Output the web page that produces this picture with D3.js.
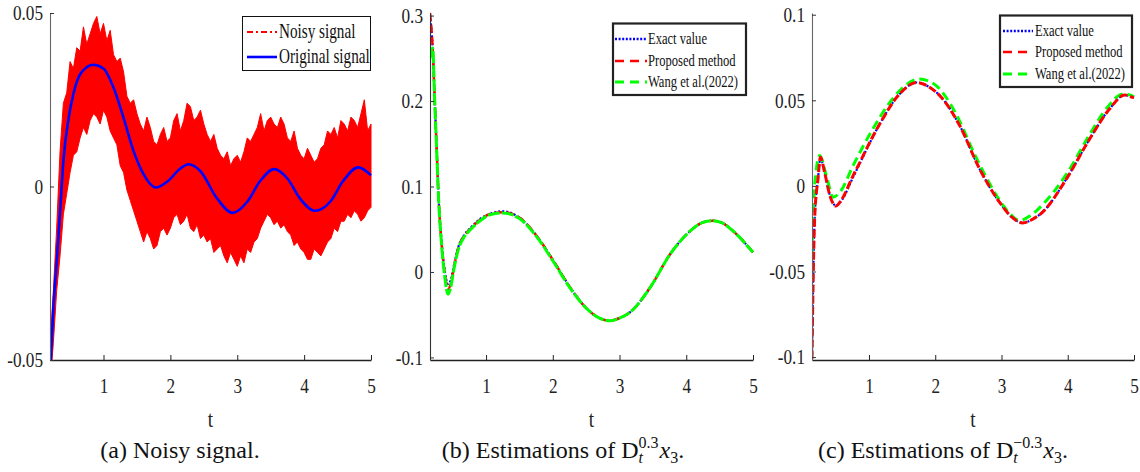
<!DOCTYPE html>
<html><head><meta charset="utf-8">
<script src="https://cdn.jsdelivr.net/npm/d3@7"></script>
<style>
@font-face{font-family:"ChartSerif";src:local("Liberation Serif"),local("LiberationSerif"),local("Liberation Serif Regular"),local("LiberationSerif-Regular"),local("Times New Roman");font-style:normal;font-weight:400;}
@font-face{font-family:"ChartSerif";src:local("Liberation Serif Italic"),local("LiberationSerif-Italic"),local("Times New Roman Italic");font-style:italic;font-weight:400;}
body{margin:0;background:#fff;}
svg{display:block;}
</style></head><body>
<svg id="chart" width="1140" height="472"></svg>
<script>
// ---------- DATA ----------
const tNoise = [0.2,0.25,0.3,0.35,0.4,0.45,0.5,0.55,0.6,0.65,0.7,0.75,0.8,0.85,0.9,0.95,1.0,1.05,1.1,1.15,1.2,1.25,1.3,1.35,1.4,1.45,1.5,1.55,1.6,1.65,1.7,1.75,1.8,1.85,1.9,1.95,2.0,2.05,2.1,2.15,2.2,2.25,2.3,2.35,2.4,2.45,2.5,2.55,2.6,2.65,2.7,2.75,2.8,2.85,2.9,2.95,3.0,3.05,3.1,3.15,3.2,3.25,3.3,3.35,3.4,3.45,3.5,3.55,3.6,3.65,3.7,3.75,3.8,3.85,3.9,3.95,4.0,4.05,4.1,4.15,4.2,4.25,4.3,4.35,4.4,4.45,4.5,4.55,4.6,4.65,4.7,4.75,4.8,4.85,4.9,4.95,5.0];
const noiseUpper = [-0.046,-0.030,-0.012,0.010,0.024,0.027,0.036,0.034,0.040,0.039,0.046,0.041,0.044,0.047,0.049,0.044,0.047,0.042,0.045,0.038,0.036,0.037,0.033,0.026,0.024,0.025,0.021,0.018,0.016,0.020,0.017,0.013,0.012,0.015,0.017,0.013,0.014,0.019,0.021,0.016,0.019,0.024,0.023,0.019,0.020,0.022,0.018,0.015,0.013,0.015,0.011,0.009,0.008,0.010,0.006,0.008,0.009,0.007,0.010,0.014,0.013,0.015,0.017,0.021,0.016,0.019,0.020,0.018,0.017,0.020,0.018,0.014,0.013,0.016,0.011,0.009,0.008,0.011,0.009,0.007,0.008,0.011,0.012,0.016,0.015,0.017,0.014,0.019,0.018,0.016,0.020,0.019,0.017,0.021,0.025,0.016,0.018];
const noiseLower = [-0.058,-0.045,-0.030,-0.020,-0.008,-0.002,0.004,0.009,0.010,0.014,0.017,0.015,0.019,0.021,0.020,0.018,0.022,0.020,0.016,0.014,0.012,0.006,0.004,-0.001,-0.004,-0.007,-0.010,-0.013,-0.016,-0.013,-0.015,-0.018,-0.017,-0.013,-0.012,-0.014,-0.012,-0.009,-0.008,-0.011,-0.010,-0.008,-0.012,-0.013,-0.011,-0.015,-0.014,-0.016,-0.015,-0.019,-0.018,-0.017,-0.020,-0.022,-0.019,-0.021,-0.023,-0.020,-0.022,-0.018,-0.019,-0.016,-0.015,-0.012,-0.010,-0.008,-0.009,-0.011,-0.010,-0.012,-0.011,-0.013,-0.014,-0.017,-0.016,-0.018,-0.019,-0.021,-0.021,-0.018,-0.019,-0.020,-0.018,-0.016,-0.015,-0.012,-0.013,-0.010,-0.010,-0.008,-0.009,-0.007,-0.008,-0.010,-0.009,-0.007,-0.006];
const tOrig = [0.2,0.25,0.31,0.36,0.40,0.48,0.55,0.66,0.85,1.0,1.15,1.30,1.45,1.60,1.78,1.96,2.15,2.27,2.45,2.70,2.93,3.15,3.34,3.55,3.75,3.94,4.16,4.39,4.58,4.81,5.0];
const origSignal = [-0.054,-0.035,-0.019,-0.0044,0.0073,0.0198,0.0267,0.0326,0.0351,0.034,0.0285,0.0198,0.0102,0.0035,-0.0003,0.0015,0.0052,0.0064,0.0044,-0.0035,-0.0076,-0.0044,0.0015,0.005,0.0023,-0.0035,-0.007,-0.0044,0.0015,0.0055,0.0032];

const tB = [0.16,0.20,0.23,0.26,0.29,0.33,0.38,0.43,0.47,0.52,0.58,0.68,0.76,0.91,1.06,1.25,1.51,1.76,2.01,2.26,2.51,2.70,2.86,3.0,3.16,3.46,3.76,4.06,4.25,4.40,4.55,4.70,5.0];
const bExact    = [0.300,0.262,0.203,0.144,0.085,0.039,0.002,-0.014,-0.010,0.008,0.028,0.044,0.051,0.062,0.068,0.071,0.063,0.042,0.013,-0.018,-0.043,-0.054,-0.057,-0.054,-0.047,-0.018,0.021,0.048,0.058,0.060,0.057,0.048,0.023];
const bProposed = [0.303,0.262,0.203,0.144,0.085,0.037,-0.001,-0.020,-0.014,0.006,0.027,0.043,0.050,0.061,0.068,0.070,0.063,0.042,0.013,-0.018,-0.043,-0.054,-0.057,-0.054,-0.047,-0.018,0.021,0.048,0.058,0.060,0.057,0.048,0.023];
const bWang     = [0.250,0.262,0.200,0.142,0.083,0.035,-0.005,-0.026,-0.018,0.004,0.025,0.042,0.049,0.060,0.067,0.069,0.062,0.041,0.012,-0.019,-0.043,-0.054,-0.057,-0.054,-0.047,-0.018,0.021,0.048,0.058,0.060,0.057,0.048,0.023];

const tC = [0.14,0.156,0.18,0.23,0.267,0.33,0.41,0.50,0.58,0.76,0.86,0.96,1.16,1.46,1.72,1.90,2.07,2.37,2.67,2.97,3.15,3.32,3.47,3.62,3.98,4.33,4.63,4.86,4.98,5.0];
const cExact    = [-0.101,-0.058,-0.019,0.004,0.0160,0.0080,-0.0055,-0.0115,-0.0088,0.0050,0.0130,0.0210,0.0360,0.0536,0.0604,0.0580,0.0527,0.0352,0.0099,-0.0095,-0.0180,-0.0216,-0.0195,-0.0153,0.0041,0.0274,0.0449,0.0531,0.0517,0.0515];
const cProposed = [-0.101,-0.058,-0.019,0.004,0.0167,0.0080,-0.0057,-0.0118,-0.0085,0.0060,0.0135,0.0215,0.0360,0.0536,0.0604,0.0580,0.0527,0.0352,0.0099,-0.0095,-0.0180,-0.0216,-0.0195,-0.0153,0.0041,0.0274,0.0449,0.0531,0.0517,0.0515];
const tCW = [0.14,0.155,0.20,0.256,0.357,0.457,0.58,0.76,1.04,1.30,1.50,1.76,2.00,2.30,2.60,2.90,3.10,3.27,3.45,3.62,4.00,4.33,4.60,4.83,4.95,5.0];
const cWang     = [-0.040,-0.019,0.008,0.0177,0.0060,-0.0066,-0.0027,0.0118,0.0320,0.0480,0.0570,0.0624,0.0590,0.0430,0.0180,-0.0040,-0.0150,-0.0202,-0.0170,-0.0110,0.0080,0.0300,0.0460,0.0536,0.0530,0.0520];

const xTicks = [1,2,3,4,5];
const xTickLabels = ["1","2","3","4","5"];
const yTicksA = [-0.05,0,0.05];       const yLabelsA = ["-0.05","0","0.05"];
const yTicksB = [-0.1,0,0.1,0.2,0.3]; const yLabelsB = ["-0.1","0","0.1","0.2","0.3"];
const yTicksC = [-0.1,-0.05,0,0.05,0.1]; const yLabelsC = ["-0.1","-0.05","0","0.05","0.1"];
const legendA = ["Noisy signal","Original signal"];
const legendBC = ["Exact value","Proposed method","Wang et al.(2022)"];

// ---------- DRAWING ----------
const svg = d3.select("#chart");
const FONT = '"Liberation Serif", "ChartSerif", "Times New Roman", Tinos, Times';
const RED = "#ff0000", BLUE = "#0000ff", GREEN = "#00ff00";

function serif(sel){ return sel.style("font-family", FONT); }
function squeezeText(sel, sx, ax){
  sel.attr("transform", `translate(${ax},0) scale(${sx},1) translate(${-ax},0)`);
}

function draw(){
svg.selectAll("*").remove();
const panels = [
  {x0:50, x1:371, y0:13, y1:360, xDom:[0.2,5], yDom:[-0.05,0.05], yTicks:yTicksA, yLabels:yLabelsA},
  {x0:430, x1:753, y0:13, y1:360, xDom:[0.16,5], yDom:[-0.103,0.303], yTicks:yTicksB, yLabels:yLabelsB},
  {x0:812, x1:1134, y0:13, y1:360, xDom:[0.14,5], yDom:[-0.1017,0.101], yTicks:yTicksC, yLabels:yLabelsC}
];

panels.forEach((p,i)=>{
  p.x = d3.scaleLinear().domain(p.xDom).range([p.x0,p.x1]);
  p.y = d3.scaleLinear().domain(p.yDom).range([p.y1,p.y0]);
  const g = svg.append("g");
  p.g = g;
  const cid = "clip"+i;
  svg.append("clipPath").attr("id",cid).append("rect")
    .attr("x",p.x0).attr("y",0).attr("width",p.x1-p.x0+3).attr("height",p.y1);
  p.plot = g.append("g").attr("clip-path",`url(#${cid})`);
});

{
  const p = panels[0];
  const area = d3.area().x((d,i)=>p.x(tNoise[i])).y0((d,i)=>p.y(noiseLower[i])).y1((d,i)=>p.y(noiseUpper[i]));
  p.plot.append("path").datum(tNoise).attr("d",area).attr("fill",RED).attr("stroke",RED).attr("stroke-width",1);
  const line = d3.line().x((d,i)=>p.x(tOrig[i])).y(d=>p.y(d)).curve(d3.curveMonotoneX);
  p.plot.append("path").datum(origSignal).attr("d",line).attr("fill","none").attr("stroke",BLUE).attr("stroke-width",2.6);
}
{
  const p = panels[1];
  const line = d3.line().x((d,i)=>p.x(tB[i])).y(d=>p.y(d)).curve(d3.curveMonotoneX);
  p.plot.append("path").datum(bExact).attr("d",line).attr("fill","none").attr("stroke",BLUE).attr("stroke-width",2.2).attr("stroke-dasharray","2,2");
  p.plot.append("path").datum(bProposed).attr("d",line).attr("fill","none").attr("stroke",RED).attr("stroke-width",2.5).attr("stroke-dasharray","8,4");
  p.plot.append("path").datum(bWang).attr("d",line).attr("fill","none").attr("stroke",GREEN).attr("stroke-width",3).attr("stroke-dasharray","12,2");
}
{
  const p = panels[2];
  const line = d3.line().x((d,i)=>p.x(tC[i])).y(d=>p.y(d)).curve(d3.curveMonotoneX);
  const lineW = d3.line().x((d,i)=>p.x(tCW[i])).y(d=>p.y(d)).curve(d3.curveMonotoneX);
  p.plot.append("path").datum(cExact).attr("d",line).attr("fill","none").attr("stroke",BLUE).attr("stroke-width",2.2).attr("stroke-dasharray","2,2");
  p.plot.append("path").datum(cWang).attr("d",lineW).attr("fill","none").attr("stroke",GREEN).attr("stroke-width",3).attr("stroke-dasharray","9,5");
  p.plot.append("path").datum(cProposed).attr("d",line).attr("fill","none").attr("stroke",RED).attr("stroke-width",3).attr("stroke-dasharray","8,3");
}

panels.forEach((p,i)=>{
  const xa = d3.axisBottom(p.x).tickValues(xTicks).tickFormat((d,k)=>xTickLabels[k])
    .tickSizeInner(-5).tickSizeOuter(0).tickPadding(18);
  const gx = p.g.append("g").attr("transform",`translate(0,${p.y1})`).call(xa);
  gx.attr("font-family",null);
  gx.select(".domain").attr("stroke","#222").attr("stroke-width",1.3);
  gx.selectAll(".tick line").attr("stroke","#222");
  gx.selectAll("text").attr("font-size",21).attr("fill","#222")
    .each(function(){ serif(d3.select(this)); squeezeText(d3.select(this),0.82,0); });

  const ya = d3.axisLeft(p.y).tickValues(p.yTicks).tickFormat((d,k)=>p.yLabels[k])
    .tickSizeInner(-4).tickSizeOuter(0).tickPadding(7);
  const gy = p.g.append("g").attr("transform",`translate(${p.x0},0)`).call(ya);
  gy.attr("font-family",null);
  gy.select(".domain").attr("stroke", i===1 ? "#333" : "#666").attr("stroke-width",1.1);
  gy.selectAll(".tick line").attr("stroke","#333");
  gy.selectAll("text").attr("font-size",21).attr("fill","#222")
    .each(function(){ serif(d3.select(this)); squeezeText(d3.select(this),0.82,-7); });

  const tl = p.g.append("text").attr("x",(p.x0+p.x1)/2).attr("y",427).attr("text-anchor","middle")
    .attr("font-size",24).attr("fill","#222").text("t");
  serif(tl);
  squeezeText(tl,0.8,(p.x0+p.x1)/2);
});

{
  const lg = svg.append("g");
  lg.append("rect").attr("x",242.5).attr("y",16.5).attr("width",128).attr("height",54)
    .attr("fill","#fff").attr("stroke","#111").attr("stroke-width",1);
  const styles = [{c:RED,w:2,da:"6,3,2,3"},{c:BLUE,w:2.6,da:null}];
  const ys = [32,57];
  legendA.forEach((lab,k)=>{
    const ln = lg.append("line").attr("x1",247).attr("x2",277).attr("y1",ys[k]).attr("y2",ys[k])
      .attr("stroke",styles[k].c).attr("stroke-width",styles[k].w);
    if(styles[k].da) ln.attr("stroke-dasharray",styles[k].da);
    const t = lg.append("text").attr("x",279).attr("y",ys[k]+6.5)
      .attr("font-size",20).attr("fill","#111").text(lab);
    serif(t);
    squeezeText(t,0.76,279);
  });
}
function legendBCdraw(bx,by,bw,bh,ys,lx1,lx2,tx){
  const lg = svg.append("g");
  lg.append("rect").attr("x",bx).attr("y",by).attr("width",bw).attr("height",bh)
    .attr("fill","#fff").attr("stroke","#222").attr("stroke-width",2.2);
  const styles = [{c:BLUE,w:2.4,da:"2,1.6"},{c:RED,w:2.6,da:"9,6"},{c:GREEN,w:3,da:"9,6"}];
  legendBC.forEach((lab,k)=>{
    lg.append("line").attr("x1",lx1).attr("x2",lx2).attr("y1",ys[k]).attr("y2",ys[k])
      .attr("stroke",styles[k].c).attr("stroke-width",styles[k].w).attr("stroke-dasharray",styles[k].da);
    const t = lg.append("text").attr("x",tx).attr("y",ys[k]+5.5)
      .attr("font-size",17).attr("fill","#111").text(lab);
    serif(t);
    squeezeText(t,0.74,tx);
  });
}
legendBCdraw(613,23.5,133,71.5,[39,61,82],615,647,648);
legendBCdraw(1000,15.5,132,71.5,[31,52,74],1003,1033,1035);

function caption(cx, base, parts){
  const g = svg.append("g");
  let cursor = 0, lastStart = 0, lastEnd = 0;
  parts.forEach(pt=>{
    const size = pt.pos==="base" ? 24 : 16;
    const dy = pt.pos==="sup" ? -10 : (pt.pos==="sub" ? 5 : 0);
    let x = pt.stack ? lastStart : cursor;
    const t = g.append("text").attr("x",x).attr("y",base+dy)
      .attr("font-size",size).attr("fill","#111").text(pt.text);
    serif(t);
    if(pt.italic) t.style("font-style","italic");
    const w = t.node().getComputedTextLength();
    if(pt.stack){ cursor = Math.max(lastEnd, x+w); }
    else { lastStart = x; lastEnd = x+w; cursor = x+w; }
    if(pt.gap) cursor += pt.gap;
  });
  g.attr("transform",`translate(${cx-cursor/2},0)`);
}
caption(180,458,[{text:"(a) Noisy signal.",pos:"base"}]);
caption(563,458,[
  {text:"(b) Estimations of D",pos:"base"},
  {text:"0.3",pos:"sup"},
  {text:"t",pos:"sub",italic:true,stack:true,gap:1},
  {text:"x",pos:"base",italic:true},
  {text:"3",pos:"sub"},
  {text:".",pos:"base"}
]);
caption(943,458,[
  {text:"(c) Estimations of D",pos:"base"},
  {text:"\u22120.3",pos:"sup"},
  {text:"t",pos:"sub",italic:true,stack:true,gap:1},
  {text:"x",pos:"base",italic:true},
  {text:"3",pos:"sub"},
  {text:".",pos:"base"}
]);
}
draw();
if (document.fonts && document.fonts.ready) {
  document.fonts.load('24px "Liberation Serif"').then(()=>draw()).catch(()=>{});
  document.fonts.ready.then(()=>draw());
}
</script>
</body></html>
